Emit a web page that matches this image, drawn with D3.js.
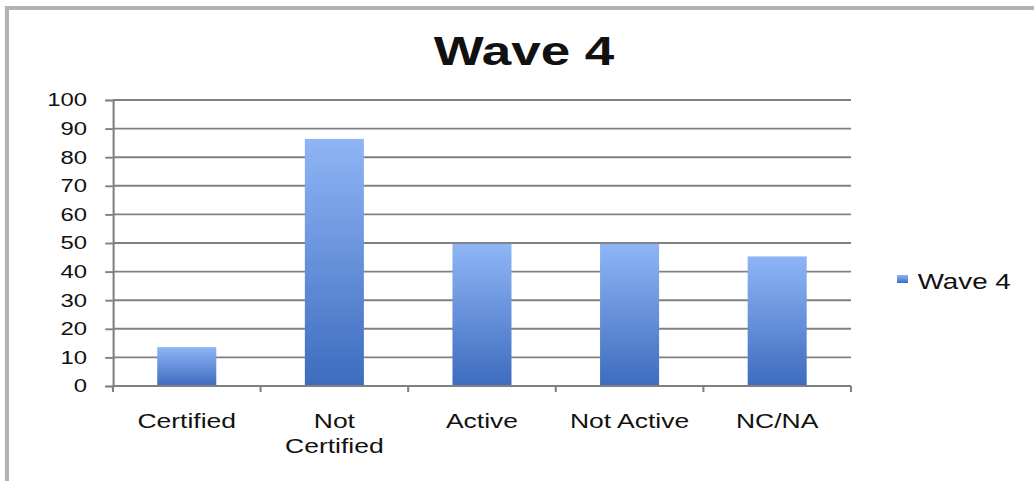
<!DOCTYPE html>
<html>
<head>
<meta charset="utf-8">
<script src="https://cdn.jsdelivr.net/npm/d3@7"></script>
<style>
  html, body { margin: 0; padding: 0; background: #fff; }
  svg { display: block; }
  text { font-family: "Liberation Sans", Arial, Helvetica, sans-serif; fill: #111; }
</style>
</head>
<body>
<svg id="chart"></svg>
<script>
const categories = ["Certified", "Not Certified", "Active", "Not Active", "NC/NA"];
const wave4 = [13.6, 86.4, 49.7, 49.7, 45.3];
const yTicks = [0, 10, 20, 30, 40, 50, 60, 70, 80, 90, 100];
const seriesName = "Wave 4";

// the reference looks like an 800 wide chart stretched to 1034, so draw in 800 units
const vbWidth = 800;
const vbHeight = 481;

const svg = d3.select("#chart")
  .attr("width", 1034)
  .attr("height", 481)
  .attr("viewBox", `0 0 ${vbWidth} ${vbHeight}`)
  .attr("preserveAspectRatio", "none");

const plotLeft = 87.4, plotRight = 658.4, plotTop = 100, plotBottom = 386;

// gradient for bars
const grad = svg.append("defs").append("linearGradient")
  .attr("id", "barGrad")
  .attr("x1", 0).attr("y1", 0).attr("x2", 0).attr("y2", 1);
grad.append("stop").attr("offset", "0%").attr("stop-color", "#8fb5f6");
grad.append("stop").attr("offset", "100%").attr("stop-color", "#3d6cbe");

// frame
svg.append("line")
  .attr("x1", 5.4).attr("x2", 5.4).attr("y1", 6).attr("y2", vbHeight)
  .attr("stroke", "#b3b3b3").attr("stroke-width", 3.2);
svg.append("line")
  .attr("x1", 4).attr("x2", vbWidth).attr("y1", 8).attr("y2", 8)
  .attr("stroke", "#b3b3b3").attr("stroke-width", 4);

// title
svg.append("text")
  .attr("x", 405.4)
  .attr("y", 65)
  .attr("text-anchor", "middle")
  .style("font-size", "41px")
  .style("font-weight", "bold")
  .text(seriesName);

// scales
let yScale = d3.scaleLinear()
  .domain([0, 100])
  .range([plotBottom, plotTop]);

let xScale = d3.scaleBand()
  .domain(categories)
  .range([plotLeft, plotRight])
  .paddingInner(0.6)
  .paddingOuter(0.3);

// gridlines
svg.append("g")
  .selectAll("line")
  .data(yTicks.filter(d => d > 0))
  .enter()
  .append("line")
  .attr("x1", plotLeft)
  .attr("x2", plotRight)
  .attr("y1", d => yScale(d))
  .attr("y2", d => yScale(d))
  .attr("stroke", "#808080")
  .attr("stroke-width", 1.9);

// y axis
let y_axis = d3.axisLeft(yScale)
  .tickValues(yTicks)
  .tickSize(6)
  .tickPadding(14);

const yg = svg.append("g")
  .attr("transform", `translate(${plotLeft},0)`)
  .call(y_axis);
yg.select(".domain").attr("stroke", "#808080").attr("stroke-width", 1.6);
yg.selectAll(".tick line").attr("stroke", "#808080").attr("stroke-width", 1.9);
yg.selectAll(".tick text")
  .style("font-size", "18.5px")
  .style("font-family", "'Liberation Sans', Arial, sans-serif")
  .attr("fill", "#111");

// bars
svg.append("g")
  .selectAll("rect")
  .data(wave4)
  .enter()
  .append("rect")
  .attr("x", (d, i) => xScale(categories[i]))
  .attr("y", d => yScale(d))
  .attr("width", xScale.bandwidth())
  .attr("height", d => yScale(0) - yScale(d))
  .attr("fill", "url(#barGrad)");

// x axis line and ticks at category boundaries
const xBounds = d3.range(categories.length + 1)
  .map(i => plotLeft + i * (plotRight - plotLeft) / categories.length);
svg.append("line")
  .attr("x1", plotLeft).attr("x2", plotRight)
  .attr("y1", plotBottom).attr("y2", plotBottom)
  .attr("stroke", "#808080").attr("stroke-width", 1.9);
svg.append("g")
  .selectAll("line")
  .data(xBounds)
  .enter()
  .append("line")
  .attr("x1", d => d).attr("x2", d => d)
  .attr("y1", plotBottom).attr("y2", plotBottom + 6)
  .attr("stroke", "#808080").attr("stroke-width", 1.6);

// category labels (wrap "Not Certified")
const xLabels = svg.append("g")
  .selectAll("text")
  .data(categories)
  .enter()
  .append("text")
  .attr("text-anchor", "middle")
  .style("font-size", "20.5px")
  .attr("y", 428);

xLabels.each(function (d) {
  const cx = xScale(d) + xScale.bandwidth() / 2;
  const lines = d === "Not Certified" ? ["Not", "Certified"] : [d];
  d3.select(this).selectAll("tspan")
    .data(lines)
    .enter()
    .append("tspan")
    .attr("x", cx)
    .attr("dy", (l, i) => i === 0 ? 0 : 25)
    .text(l => l);
});

// legend
svg.append("rect")
  .attr("x", 694).attr("y", 275)
  .attr("width", 8.5).attr("height", 8)
  .attr("fill", "url(#barGrad)");
svg.append("text")
  .attr("x", 710)
  .attr("y", 289)
  .style("font-size", "21.5px")
  .text(seriesName);
</script>
</body>
</html>
